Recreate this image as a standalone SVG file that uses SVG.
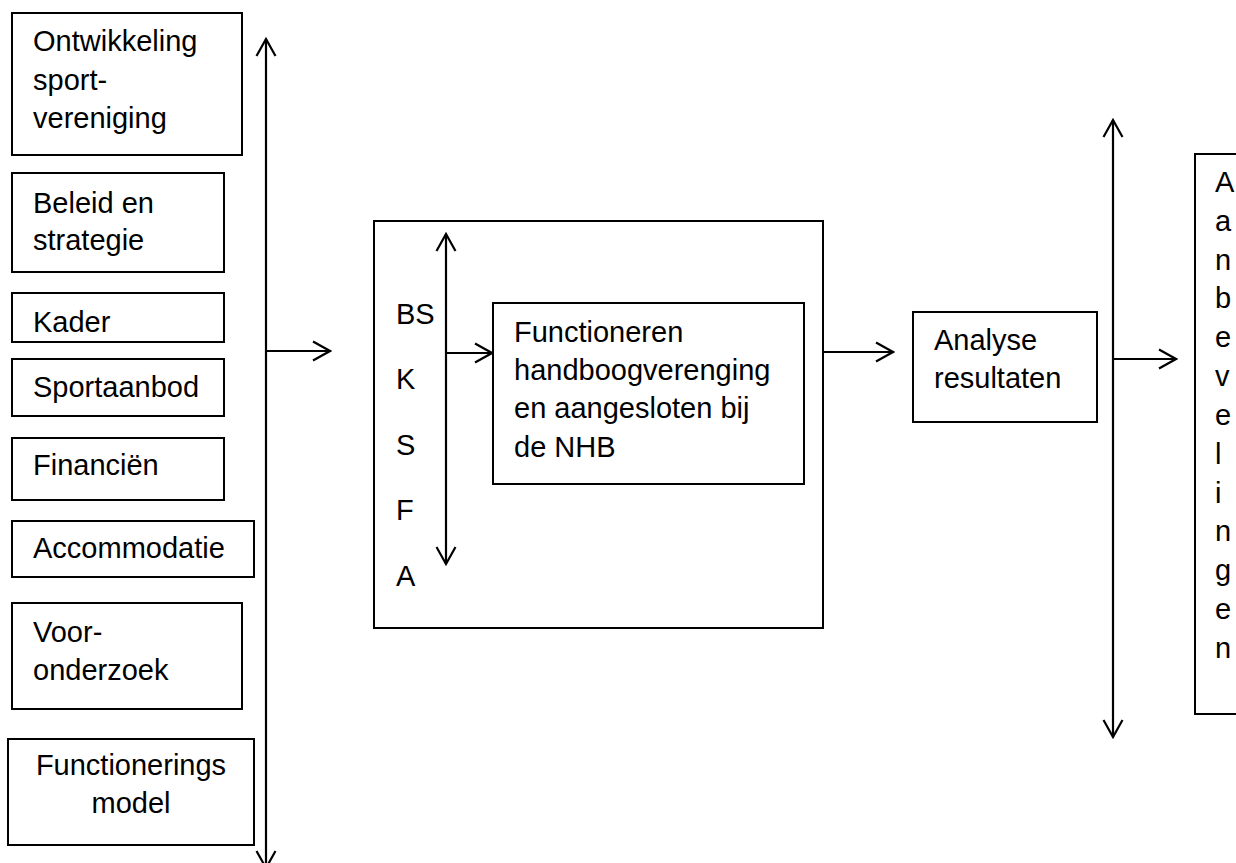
<svg xmlns="http://www.w3.org/2000/svg" width="1236" height="863" viewBox="0 0 1236 863">
  <style>
    .box { fill: #fff; stroke: #000; stroke-width: 2; }
    .lbl { font-family: "Liberation Sans", Arial, sans-serif; font-size: 29px; fill: #000; }
    .mid { text-anchor: middle; }
    .wire { stroke: #000; stroke-width: 2.2; fill: none; }
  </style>
  <defs>
    <marker id="head" viewBox="0 0 20 22" markerWidth="20" markerHeight="22" refX="18" refY="11" markerUnits="userSpaceOnUse" orient="auto-start-reverse">
      <path d="M1,1.5 L18,11 L1,20.5" fill="none" stroke="#000" stroke-width="2.2"/>
    </marker>
  </defs>
  <rect width="1236" height="863" fill="#fff"/>

  <!-- input factors -->
  <g id="n-ontwikkeling">
    <rect class="box" x="12" y="13" width="230" height="142"/>
    <text class="lbl" x="33" y="51">Ontwikkeling</text>
    <text class="lbl" x="33" y="90">sport-</text>
    <text class="lbl" x="33" y="128">vereniging</text>
  </g>
  <g id="n-beleid">
    <rect class="box" x="12" y="173" width="212" height="99"/>
    <text class="lbl" x="33" y="213">Beleid en</text>
    <text class="lbl" x="33" y="250">strategie</text>
  </g>
  <g id="n-kader">
    <rect class="box" x="12" y="293" width="212" height="49"/>
    <text class="lbl" x="33" y="332">Kader</text>
  </g>
  <g id="n-sportaanbod">
    <rect class="box" x="12" y="359" width="212" height="57"/>
    <text class="lbl" x="33" y="397">Sportaanbod</text>
  </g>
  <g id="n-financien">
    <rect class="box" x="12" y="438" width="212" height="62"/>
    <text class="lbl" x="33" y="475">Financiën</text>
  </g>
  <g id="n-accommodatie">
    <rect class="box" x="12" y="521" width="242" height="56"/>
    <text class="lbl" x="33" y="558">Accommodatie</text>
  </g>
  <g id="n-vooronderzoek">
    <rect class="box" x="12" y="603" width="230" height="106"/>
    <text class="lbl" x="33" y="642">Voor-</text>
    <text class="lbl" x="33" y="680">onderzoek</text>
  </g>
  <g id="n-functioneringsmodel">
    <rect class="box" x="8" y="739" width="246" height="106"/>
    <text class="lbl mid" x="131" y="775">Functionerings</text>
    <text class="lbl mid" x="131" y="813">model</text>
  </g>

  <!-- central block -->
  <g id="n-centraal">
    <rect class="box" x="374" y="221" width="449" height="407"/>
    <text class="lbl" x="396" y="324">BS</text>
    <text class="lbl" x="396" y="389">K</text>
    <text class="lbl" x="396" y="455">S</text>
    <text class="lbl" x="396" y="520">F</text>
    <text class="lbl" x="396" y="586">A</text>
  </g>
  <g id="n-functioneren">
    <rect class="box" x="493" y="303" width="311" height="181"/>
    <text class="lbl" x="514" y="342">Functioneren</text>
    <text class="lbl" x="514" y="380">handboogverenging</text>
    <text class="lbl" x="514" y="418">en aangesloten bij</text>
    <text class="lbl" x="514" y="457">de NHB</text>
  </g>

  <g id="n-analyse">
    <rect class="box" x="913" y="312" width="184" height="110"/>
    <text class="lbl" x="934" y="350">Analyse</text>
    <text class="lbl" x="934" y="388">resultaten</text>
  </g>

  <g id="n-aanbevelingen">
    <rect class="box" x="1195" y="154" width="50" height="560"/>
    <text class="lbl" x="1215" y="192">A</text>
    <text class="lbl" x="1215" y="231">a</text>
    <text class="lbl" x="1215" y="270">n</text>
    <text class="lbl" x="1215" y="308">b</text>
    <text class="lbl" x="1215" y="347">e</text>
    <text class="lbl" x="1215" y="386">v</text>
    <text class="lbl" x="1215" y="425">e</text>
    <text class="lbl" x="1215" y="464">l</text>
    <text class="lbl" x="1215" y="503">i</text>
    <text class="lbl" x="1215" y="541">n</text>
    <text class="lbl" x="1215" y="580">g</text>
    <text class="lbl" x="1215" y="619">e</text>
    <text class="lbl" x="1215" y="658">n</text>
  </g>

  <!-- connectors -->
  <g id="connectors">
    <line class="wire" x1="266" y1="39" x2="266" y2="868" marker-start="url(#head)" marker-end="url(#head)"/>
    <line class="wire" x1="266" y1="351" x2="330" y2="351" marker-end="url(#head)"/>
    <line class="wire" x1="446" y1="234" x2="446" y2="564" marker-start="url(#head)" marker-end="url(#head)"/>
    <line class="wire" x1="446" y1="353" x2="492" y2="353" marker-end="url(#head)"/>
    <line class="wire" x1="823" y1="352" x2="893" y2="352" marker-end="url(#head)"/>
    <line class="wire" x1="1113" y1="120" x2="1113" y2="737" marker-start="url(#head)" marker-end="url(#head)"/>
    <line class="wire" x1="1113" y1="359" x2="1176" y2="359" marker-end="url(#head)"/>
  </g>
</svg>
